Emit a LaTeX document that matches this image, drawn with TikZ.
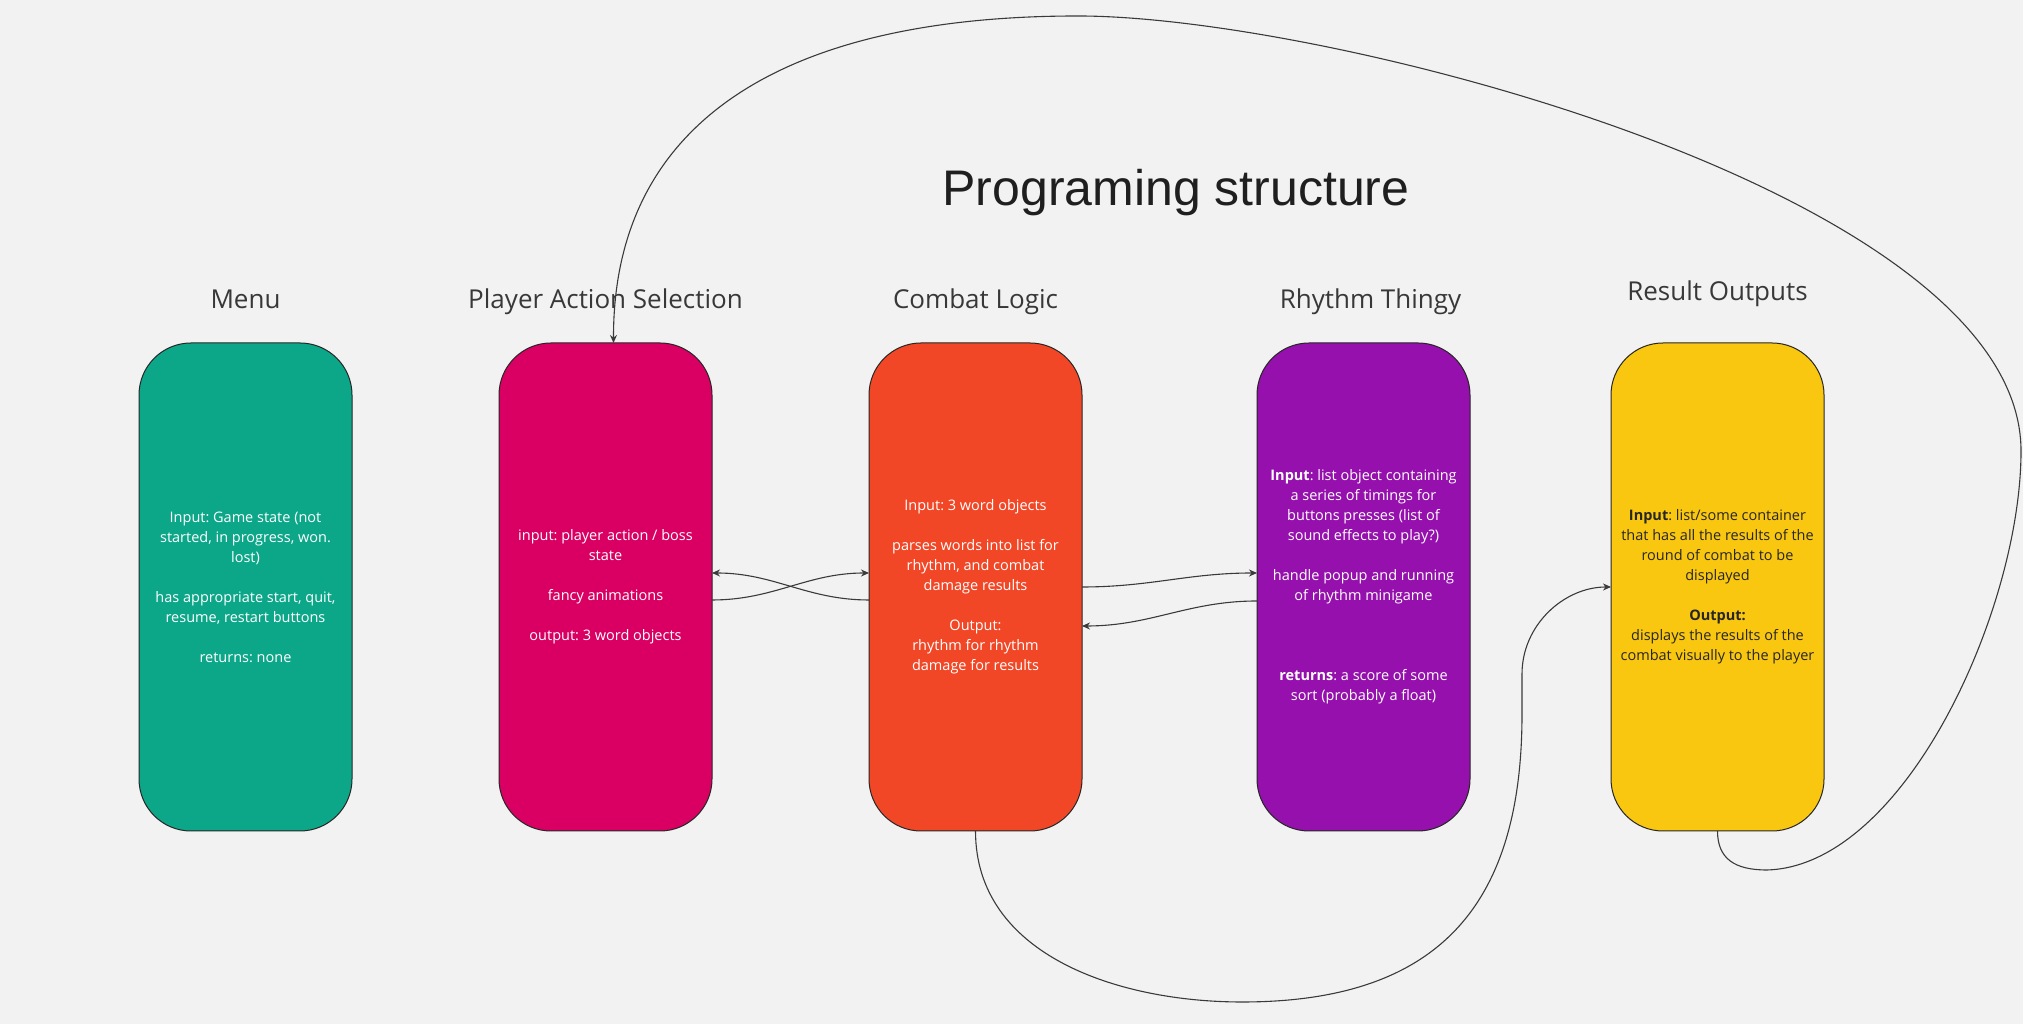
\documentclass[tikz,border=0pt]{standalone}
\usepackage{fontspec}
\setmainfont{Open Sans}
\newfontfamily\titlefont{Liberation Sans}
\usetikzlibrary{positioning,arrows.meta}
\frenchspacing

\definecolor{boardgrey}{HTML}{F2F2F2}
\definecolor{menuteal}{HTML}{0CA789}
\definecolor{actionmagenta}{HTML}{DA0063}
\definecolor{combatred}{HTML}{F24726}
\definecolor{rhythmviolet}{HTML}{9510AC}
\definecolor{resultyellow}{HTML}{FAC710}
\definecolor{linegrey}{HTML}{3A3A3A}

\begin{document}
\begin{tikzpicture}[
  x=1pt,y=1pt,
  >={Stealth[length=8pt,width=7pt]},
  block/.style={draw=black!85,line width=1pt,outer sep=0pt,rounded corners=52pt,
    minimum width=213pt,minimum height=488pt,align=center,text=white,
    font=\fontsize{14.5}{20}\selectfont},
  heading/.style={font=\fontsize{26}{30}\selectfont,text=black!78,
    text height=19pt,text depth=6pt},
  link/.style={->,draw=linegrey,line width=1.1pt}
]
  \fill[boardgrey] (0,0) rectangle (2023,1024);
  \useasboundingbox (0,0) rectangle (2023,1024);

  \node[font=\titlefont\fontsize{50}{60}\selectfont,text=black!88,anchor=base] (title) at (1176,818) {Programing structure};

  \node[block,fill=menuteal] (menu) at (245.5,437) {Input: Game state (not\\ started, in progress, won.\\ lost)\\[20pt] has appropriate start, quit,\\ resume, restart buttons\\[20pt] returns: none};
  \node[block,fill=actionmagenta,right=147pt of menu] (action) {input: player action / boss\\ state\\[20pt] fancy animations\\[20pt] output: 3 word objects};
  \node[block,fill=combatred,right=157pt of action] (combat) {Input: 3 word objects\\[20pt] parses words into list for\\ rhythm, and combat\\ damage results\\[20pt] Output:\\ rhythm for rhythm\\ damage for results};
  \node[block,fill=rhythmviolet,right=175pt of combat] (rhythm) {\textbf{Input}: list object containing\\ a series of timings for\\ buttons presses (list of\\ sound effects to play?)\\[20pt] handle popup and running\\ of rhythm minigame\\[60pt] \textbf{returns}: a score of some\\ sort (probably a float)};
  \node[block,fill=resultyellow,text=black!85,right=141pt of rhythm] (result) {\textbf{Input}: list/some container\\ that has all the results of the\\ round of combat to be\\ displayed\\[20pt] \textbf{Output:}\\ displays the results of the\\ combat visually to the player};

  % column titles
  \node[heading,above=25pt of menu] (menuhead) {Menu};
  \node[heading,above=25pt of action] (actionhead) {Player Action Selection};
  \node[heading,above=25pt of combat] (combathead) {Combat Logic};
  \node[heading,above=25pt of rhythm,xshift=7pt] (rhythmhead) {Rhythm Thingy};
  \node[heading,above=33pt of result] (resulthead) {Result Outputs};

  % word objects back and forth
  \draw[link] ([yshift=-13pt]combat.west) to[out=180,in=0] ([yshift=14pt]action.east);
  \draw[link] ([yshift=-13pt]action.east) to[out=0,in=180] ([yshift=14pt]combat.west);
  \draw[link] (combat.east) to[out=0,in=180] ([yshift=14pt]rhythm.west);
  \draw[link] ([yshift=-14pt]rhythm.west) to[out=180,in=0] ([yshift=-39pt]combat.east);

  % results and the loop back
  \draw[link] (combat.south) .. controls (975.5,69) and (1118,22) .. (1242,22)
    .. controls (1440,22) and (1522,120) .. (1522,310) -- (1522,350)
    .. controls (1522,399) and (1564,437) .. (result.west);
  \draw[link] (result.south) .. controls (1717.5,165) and (1735,154) .. (1767,154)
    .. controls (1905,158) and (2021,415) .. (2021,573)
    .. controls (2021,830) and (1330,1008) .. (1078,1008)
    .. controls (780,1008) and (613,900) .. ([xshift=8pt]action.north);
\end{tikzpicture}
\end{document}
